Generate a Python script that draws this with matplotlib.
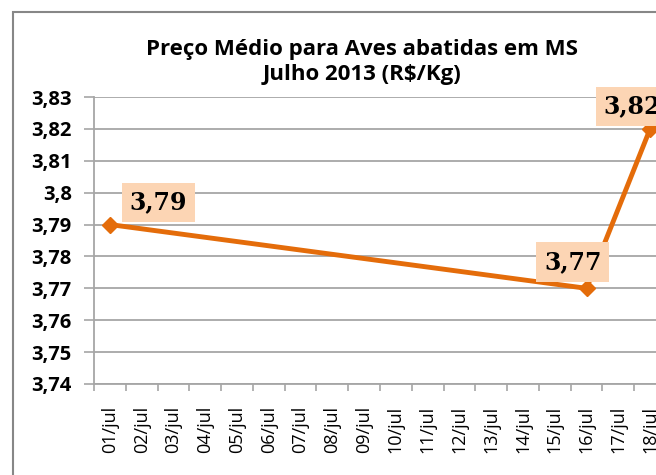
import matplotlib.pyplot as plt
import matplotlib.patches as mpatches
from matplotlib.ticker import FixedLocator, FuncFormatter

# dados
dias = ['01/jul', '02/jul', '03/jul', '04/jul', '05/jul', '06/jul', '07/jul', '08/jul', '09/jul',
        '10/jul', '11/jul', '12/jul', '13/jul', '14/jul', '15/jul', '16/jul', '17/jul', '18/jul']
dias_com_preco = ['01/jul', '16/jul', '18/jul']
precos = [3.79, 3.77, 3.82]
rotulo_offset = [(35, 16), (-10, 19), (-13, 16)]

laranja = '#E46C0A'
cinza = '#A6A6A6'

fig = plt.figure(figsize=(6.56, 4.75), dpi=100)
ax = fig.add_axes([94 / 656, 91 / 475, 572 / 656, 287 / 475])

# borda da area do grafico
fig.patches.append(mpatches.Rectangle((13 / 656, -0.1), 1.2, (475 - 12) / 475 + 0.1,
                                      transform=fig.transFigure, fill=False,
                                      edgecolor='#878787', linewidth=1.5))

x = [dias.index(d) for d in dias_com_preco]
ax.plot(x, precos, color=laranja, linewidth=3.5, marker='D', markersize=8,
        markerfacecolor=laranja, markeredgecolor=laranja, zorder=3)

for xi, p, off in zip(x, precos, rotulo_offset):
    ax.annotate(f'{p:.2f}'.replace('.', ','), (xi, p), xytext=off, textcoords='offset points',
                ha='center', va='center', fontsize=17, fontweight='bold',
                family='DejaVu Serif', color='black', annotation_clip=False,
                bbox=dict(boxstyle='square,pad=0.32', facecolor='#FCD5B4', edgecolor='none'))

ax.set_xlim(-0.5, len(dias) - 0.5)
ax.set_ylim(3.74, 3.83)
ax.set_yticks([3.74 + i * 0.01 for i in range(10)])
ax.yaxis.set_major_formatter(FuncFormatter(
    lambda v, pos: f'{v:.2f}'.rstrip('0').replace('.', ',')))
ax.set_xticks(range(len(dias)))
ax.set_xticklabels(dias, rotation=90, fontsize=13, family='Open Sans')
ax.xaxis.set_minor_locator(FixedLocator([i - 0.5 for i in range(len(dias) + 1)]))
ax.tick_params(axis='x', which='major', length=0, pad=16)
ax.tick_params(axis='x', which='minor', length=5, color=cinza, width=1.2)
ax.tick_params(axis='y', length=7, color=cinza, width=1.2, pad=9)
for lbl in ax.get_yticklabels():
    lbl.set_fontsize(14.5)
    lbl.set_fontweight('bold')
    lbl.set_family('Open Sans')

ax.grid(axis='y', color=cinza, linewidth=1.3)
ax.set_axisbelow(True)
for s in ['top', 'right']:
    ax.spines[s].set_visible(False)
ax.spines['left'].set_color(cinza)
ax.spines['bottom'].set_color(cinza)
ax.spines['left'].set_linewidth(1.3)
ax.spines['bottom'].set_linewidth(1.3)

fig.text(362 / 656, 1 - 62 / 475, 'Preço Médio para Aves abatidas em MS\nJulho 2013 (R$/Kg)',
         ha='center', va='center', fontsize=16, fontweight='bold', family='Open Sans',
         linespacing=1.25)

fig.savefig('out.png', dpi=100)
